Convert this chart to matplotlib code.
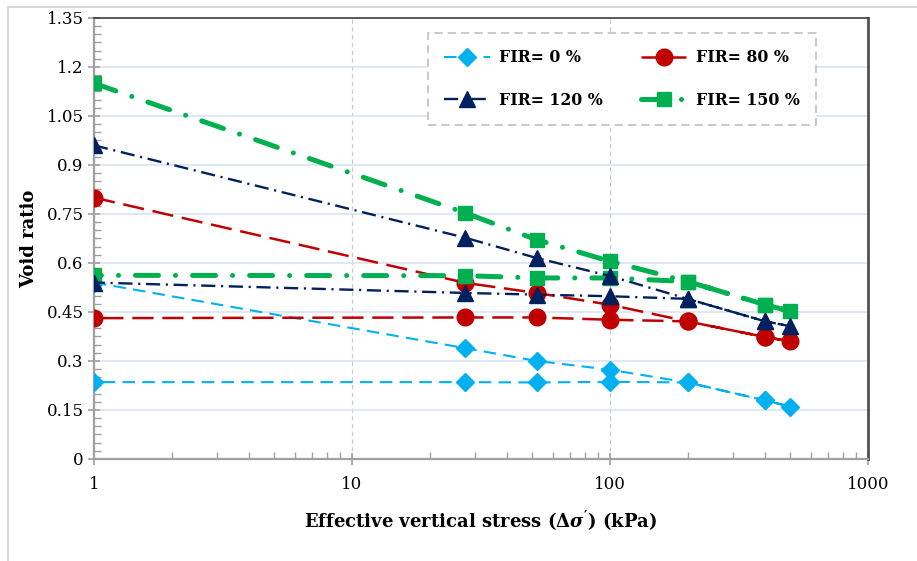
import numpy as np
import matplotlib.pyplot as plt
from matplotlib.ticker import FixedLocator, MultipleLocator, NullFormatter
from matplotlib.patches import Rectangle

plt.rcParams['font.family'] = ['DejaVu Serif']
plt.rcParams['mathtext.fontset'] = 'custom'
plt.rcParams['mathtext.rm'] = 'DejaVu Serif:bold'
plt.rcParams['mathtext.it'] = 'DejaVu Serif:bold:italic'

# stress steps: loading then unloading (kPa)
stress = [1, 27.5, 52, 100, 200, 400, 500, 400, 200, 100, 52, 27.5, 1]

# void ratio for each FIR
e_fir0 = [0.54, 0.339, 0.300, 0.273, 0.234, 0.179, 0.160, 0.179, 0.234, 0.236, 0.234, 0.235, 0.235]
e_fir80 = [0.80, 0.539, 0.508, 0.472, 0.421, 0.373, 0.360, 0.373, 0.421, 0.426, 0.433, 0.433, 0.431]
e_fir120 = [0.96, 0.677, 0.615, 0.560, 0.490, 0.421, 0.406, 0.421, 0.490, 0.498, 0.503, 0.508, 0.540]
e_fir150 = [1.15, 0.753, 0.671, 0.605, 0.543, 0.472, 0.452, 0.472, 0.543, 0.554, 0.554, 0.561, 0.562]

labels = ['FIR= 0 %', 'FIR= 80 %', 'FIR= 120 %', 'FIR= 150 %']

fig = plt.figure(figsize=(9.17, 5.61), dpi=100)
ax = fig.add_axes([0.1025, 0.182, 0.844, 0.786])

# outer frame
fig.patches.append(Rectangle((8 / 917, -0.1), 1.2, 1 - 7 / 561 + 0.1, transform=fig.transFigure,
                             fill=False, edgecolor='#d0d0d0', lw=1.2, zorder=0))

l0, = ax.plot(stress, e_fir0, color='#00b0f0', lw=1.5, dashes=(6, 3.5), marker='D', ms=9.5,
              zorder=3)
l1, = ax.plot(stress, e_fir80, color='#c00000', lw=1.8, dashes=(8.5, 3.5), marker='o', ms=12,
              zorder=4)
l3, = ax.plot(stress, e_fir150, color='#00b050', lw=3.6, dashes=(4.6, 3.4, 0.01, 3.4),
              dash_capstyle='round', marker='s', ms=10.5, zorder=5)
l2, = ax.plot(stress, e_fir120, color='#002060', lw=1.7, dashes=(6, 2.4, 0.9, 2.4), marker='^',
              ms=11, zorder=6)

ax.set_xscale('log')
ax.set_xlim(1, 1000)
ax.set_ylim(0, 1.35)
ax.xaxis.set_major_locator(FixedLocator([1, 10, 100, 1000]))
ax.set_xticklabels(['1', '10', '100', '1000'])
ax.xaxis.set_minor_formatter(NullFormatter())
ax.set_yticks(np.arange(0, 1.36, 0.15))
ax.set_yticklabels(['0', '0.15', '0.3', '0.45', '0.6', '0.75', '0.9', '1.05', '1.2', '1.35'])
ax.yaxis.set_minor_locator(MultipleLocator(0.025))

ax.tick_params(axis='both', which='major', labelsize=12, direction='inout', length=8,
               width=1.2, color='#a0a0a0')
ax.tick_params(axis='x', which='minor', direction='in', length=5, width=1, color='#a0a0a0')
ax.tick_params(axis='y', which='minor', direction='in', length=5, width=1, color='#a0a0a0')
ax.tick_params(axis='x', which='major', pad=8)

ax.yaxis.grid(True, color='#d9e2f3', lw=1.2, zorder=0)
ax.xaxis.grid(True, which='major', color='#c8c8c8', lw=0.8, ls=(0, (4, 3)), zorder=0)
ax.set_axisbelow(True)

for side in ['left', 'bottom']:
    ax.spines[side].set_color('#a0a0a0')
    ax.spines[side].set_linewidth(1.6)
ax.spines['top'].set_color('#404040')
ax.spines['top'].set_linewidth(1.2)
ax.spines['right'].set_color('#505050')
ax.spines['right'].set_linewidth(2)

ax.set_ylabel('Void ratio', fontsize=13, fontweight='bold', labelpad=6)
ax.set_xlabel(r'Effective vertical stress ($\Delta\sigma^{\prime}$) (kPa)', fontsize=13,
              fontweight='bold', labelpad=12)

# legend fills column by column, so order the handles row-wise
leg = ax.legend([l0, l2, l1, l3], [labels[0], labels[2], labels[1], labels[3]], ncol=2,
                loc='upper left', bbox_to_anchor=(0.4315, 0.966), borderaxespad=0,
                prop={'weight': 'bold', 'size': 11.3},
                handlelength=2.9, handletextpad=0.6, columnspacing=2.4, borderpad=1.05,
                labelspacing=1.6, fancybox=False, framealpha=1)
leg.get_frame().set_edgecolor('#c0c0c0')
leg.get_frame().set_linestyle((0, (5, 3)))
leg.get_frame().set_linewidth(1.2)

plt.savefig('out.png', dpi=100)
